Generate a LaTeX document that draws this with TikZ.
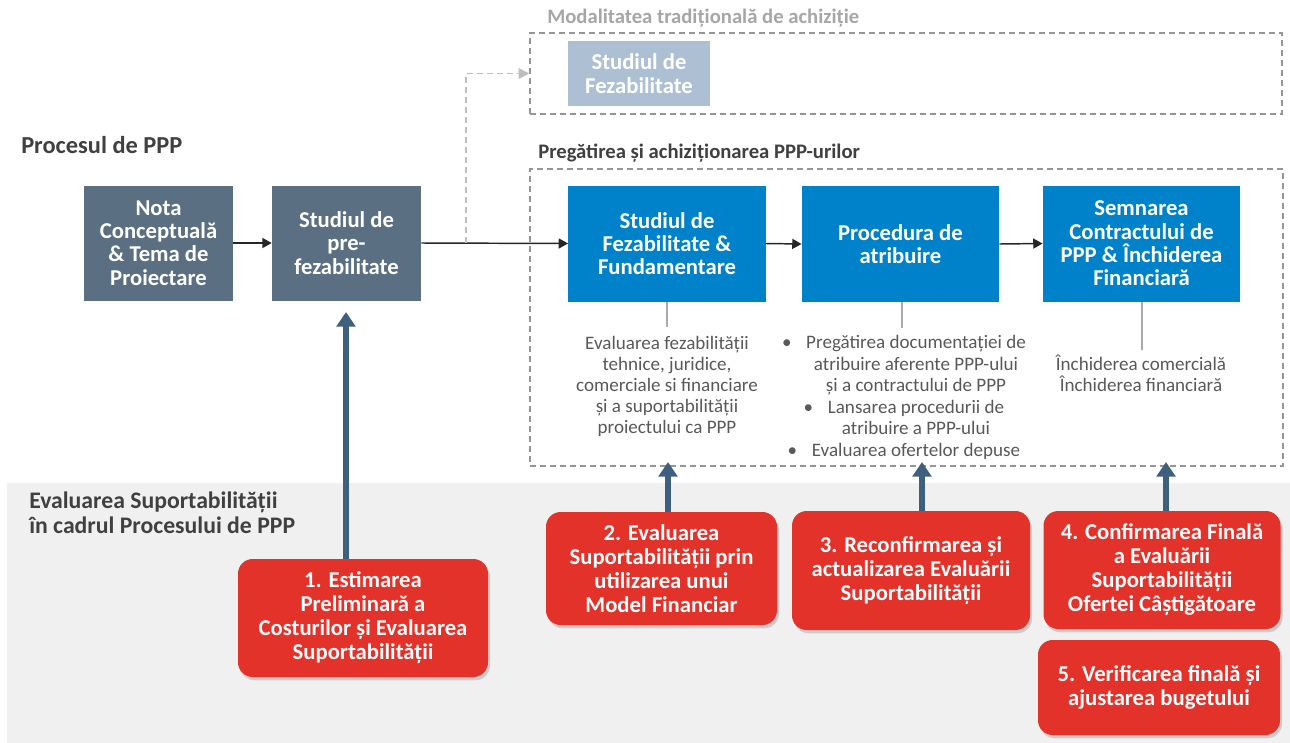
\documentclass[tikz,border=0pt]{standalone}
\usepackage{fontspec}
\setmainfont{Carlito}
\usetikzlibrary{arrows.meta,shadows}
\definecolor{grbox}{RGB}{91,111,131}
\definecolor{blbox}{RGB}{0,130,202}
\definecolor{ltbox}{RGB}{173,192,211}
\definecolor{redbox}{RGB}{227,50,42}
\definecolor{arrowblue}{RGB}{63,95,127}
\definecolor{bggray}{RGB}{240,240,240}
\definecolor{dashgray}{RGB}{150,150,150}
\definecolor{dasharrow}{RGB}{190,190,190}
\definecolor{txtgray}{RGB}{89,89,89}
\definecolor{headgray}{RGB}{64,64,64}
\definecolor{lightgrtxt}{RGB}{166,166,166}
\definecolor{thingray}{RGB}{170,170,170}
\begin{document}
\begin{tikzpicture}[x=0.75pt,y=-0.75pt,
  boxtxt/.style={font=\fontsize{17}{17.5}\selectfont\bfseries, text=white, align=center, inner sep=0pt},
  procbox/.style={boxtxt, fill=grbox, minimum width=111.75pt, minimum height=86.25pt},
  bluebox/.style={boxtxt, fill=blbox, minimum width=148pt, minimum height=87pt},
  redbx/.style={font=\fontsize{17}{18}\selectfont\bfseries, text=white, align=center, inner sep=0pt, fill=redbox, rounded corners=11pt, drop shadow={shadow xshift=1.5pt, shadow yshift=-2.5pt, opacity=0.25, fill=black!60}},
  dashbox/.style={draw=dashgray, dash pattern=on 4.5pt off 3pt, line width=1.1pt, inner sep=0pt},
  headtxt/.style={font=\fontsize{18.3}{18.75}\selectfont\bfseries, text=headgray, align=left, inner sep=0pt, anchor=west},
  subhead/.style={font=\fontsize{15.5}{18}\selectfont\bfseries, inner sep=0pt, anchor=west},
  bodytxt/.style={font=\fontsize{14.3}{15.75}\selectfont, text=txtgray, align=center, inner sep=0pt},
  flow/.style={-{Triangle[width=7.5pt,length=7pt]}, line width=1.1pt, draw=black!85},
  upflow/.style={-{Triangle[width=14pt,length=11pt]}, line width=4.5pt, draw=arrowblue},
  stem/.style={draw=thingray, line width=0.8pt}
]
\useasboundingbox (0,0) rectangle (1290,743);
% background of the lower band
\fill[bggray] (7,483) rectangle (1290,743);

% headings
\node[subhead, text=lightgrtxt] (hdtrad) at (547,18) {Modalitatea tradițională de achiziție};
\node[headtxt] (hdproc) at (21,145) {Procesul de PPP};
\node[subhead, text=headgray] (hdprep) at (538,153) {Pregătirea și achiziționarea PPP-urilor};
\node[headtxt, font=\fontsize{17.8}{18.75}\selectfont\bfseries] (hdeval) at (29,512.5) {Evaluarea Suportabilității\\în cadrul Procesului de PPP};

% dashed frames
\node[dashbox, minimum width=564pt, minimum height=60.75pt] (tradbox) at (906,73.5) {};
\node[dashbox, minimum width=564.75pt, minimum height=222.75pt] (prepbox) at (906.5,317.5) {};

% process boxes
\node[procbox] (nota) at (158.5,243) {Nota\\Conceptuală\\\& Tema de\\Proiectare};
\node[procbox] (prefez) at (346.5,243) {Studiul de\\pre-\\fezabilitate};
\node[boxtxt, fill=ltbox, minimum width=106.5pt, minimum height=48.75pt] (sftrad) at (639,73.5) {Studiul de\\Fezabilitate};
\node[bluebox] (sfA) at (667,243.5) {Studiul de\\Fezabilitate \&\\Fundamentare};
\node[bluebox] (procB) at (900.5,244) {Procedura de\\atribuire};
\node[bluebox] (semC) at (1141.5,243.5) {Semnarea\\Contractului de\\PPP \& Închiderea\\Financiară};

% flow arrows
\draw[flow] (nota.east) -- (prefez.west);
\coordinate (split) at (466,243);
\draw[flow] (prefez.east) -- (sfA.west);
\draw[flow] (sfA.east) -- (procB.west);
\draw[flow] (procB.east) -- (semC.west);
\draw[-{Triangle[width=8pt,length=8pt]}, line width=1.1pt, draw=dasharrow, dash pattern=on 4.5pt off 3pt] (split) |- (tradbox.west);

% stems and descriptions
\coordinate (endA) at (667,327);
\coordinate (endB) at (902,328);
\coordinate (endC) at (1142,350);
\draw[stem] (sfA.south) -- (endA);
\draw[stem] (procB.south -| endB) -- (endB);
\draw[stem] (semC.south -| endC) -- (endC);
\node[bodytxt] (descA) at (667,386) {Evaluarea fezabilității\\tehnice, juridice,\\comerciale si financiare\\și a suportabilității\\proiectului ca PPP};
\node[bodytxt, font=\fontsize{14.3}{16.1}\selectfont] (descB) at (916,397.5) {\llap{•\hspace{11pt}}Pregătirea documentației de\\atribuire aferente PPP-ului\\și a contractului de PPP\\\llap{•\hspace{11pt}}Lansarea procedurii de\\atribuire a PPP-ului\\\llap{•\hspace{11pt}}Evaluarea ofertelor depuse};
\node[bodytxt] (descC) at (1141,373.5) {Închiderea comercială\\Închiderea financiară};

% red boxes
\node[redbx, minimum width=187.5pt, minimum height=88.5pt] (r1) at (363,618) {1. Estimarea\\Preliminară a\\Costurilor și Evaluarea\\Suportabilității};
\node[redbx, minimum width=173.25pt, minimum height=84.75pt] (r2) at (661.5,568.5) {2. Evaluarea\\Suportabilității prin\\utilizarea unui\\Model Financiar};
\node[redbx, minimum width=178.5pt, minimum height=89.25pt] (r3) at (911,570.5) {3. Reconfirmarea și\\actualizarea Evaluării\\Suportabilității};
\node[redbx, minimum width=177.75pt, minimum height=88.5pt] (r4) at (1162,570) {4. Confirmarea Finală\\a Evaluării\\Suportabilității\\Ofertei Câștigătoare};
\node[redbx, minimum width=181.5pt, minimum height=71.25pt] (r5) at (1159,687.5) {5. Verificarea finală și\\ajustarea bugetului};

% upward arrows
\coordinate (tip1) at (346,312);
\coordinate (tip2) at (668,462);
\coordinate (tip3) at (922,462);
\coordinate (tip4) at (1166,462);
\draw[upflow] (r1.north -| tip1) -- (tip1);
\draw[upflow] (r2.north -| tip2) -- (tip2);
\draw[upflow] (r3.north -| tip3) -- (tip3);
\draw[upflow] (r4.north -| tip4) -- (tip4);
\end{tikzpicture}
\end{document}
